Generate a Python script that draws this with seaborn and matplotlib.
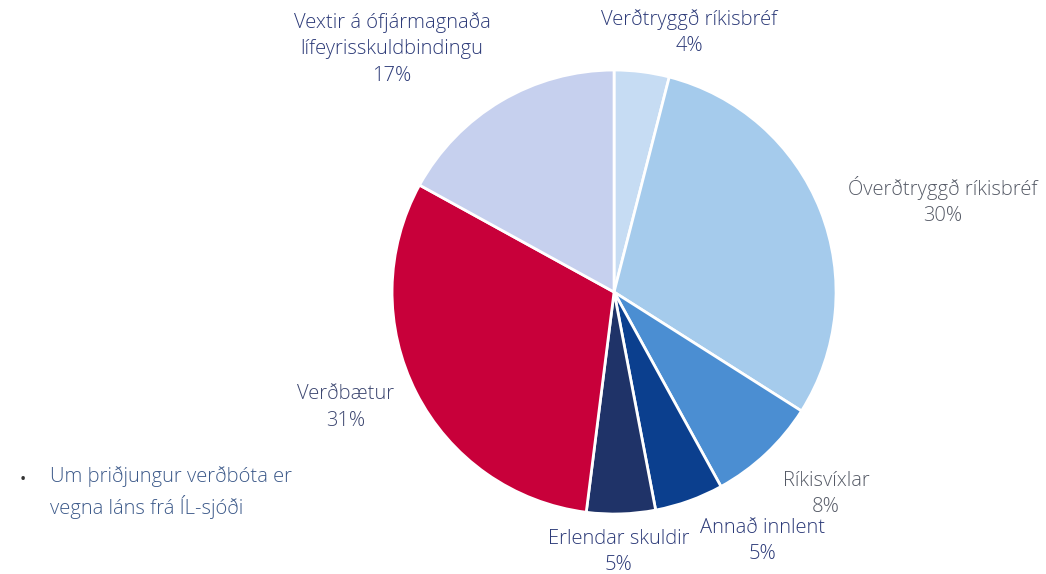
import matplotlib
matplotlib.use("Agg")
import matplotlib.pyplot as plt
import seaborn as sns

labels = ["Verðtryggð ríkisbréf", "Óverðtryggð ríkisbréf", "Ríkisvíxlar",
          "Annað innlent", "Erlendar skuldir", "Verðbætur",
          "Vextir á ófjármagnaða\nlífeyrisskuldbindingu"]
shares = [4, 30, 8, 5, 5, 31, 17]
colors = ["#c6dcf3", "#a5cbec", "#4b8ed2", "#0b3f8e", "#1f3368", "#c8003a", "#c6d0ee"]

# label anchor positions (in pie radius units)
label_pos = [(0.34, 1.17), (1.48, 0.41), (0.955, -0.91), (0.67, -1.12),
             (0.02, -1.17), (-1.21, -0.52), (-1.0, 1.095)]
label_colors = ["#2c3a78", "#555a66", "#555a66", "#2c3a78", "#2c3a78", "#3c4670", "#2c3a78"]

sns.set_style("white")
plt.rcParams["font.family"] = ["Open Sans", "DejaVu Sans"]

fig = plt.figure(figsize=(10.46, 5.74), dpi=100)
ax = fig.add_axes([0.3748, 0.1045, 0.4245, 0.7735])

ax.pie(shares, colors=colors, startangle=90, counterclock=False,
       wedgeprops=dict(edgecolor="white", linewidth=2))
ax.set_xlim(-1, 1)
ax.set_ylim(-1, 1)
ax.set_aspect("equal")
ax.axis("off")

for lab, val, (x, y), c in zip(labels, shares, label_pos, label_colors):
    ax.text(x, y, f"{lab}\n{val}%", ha="center", va="center", fontsize=14.5,
            color=c, linespacing=1.42, fontweight="light", clip_on=False)

fig.text(20 / 1046, 1 - 480 / 574, "•", fontsize=12, color="#333333", va="center")
fig.text(50 / 1046, 1 - 493 / 574, "Um þriðjungur verðbóta er\nvegna láns frá ÍL-sjóði",
         fontsize=14.5, color="#3d5a8a", va="center", linespacing=1.42, fontweight="light")

fig.savefig("out.png", dpi=100)
